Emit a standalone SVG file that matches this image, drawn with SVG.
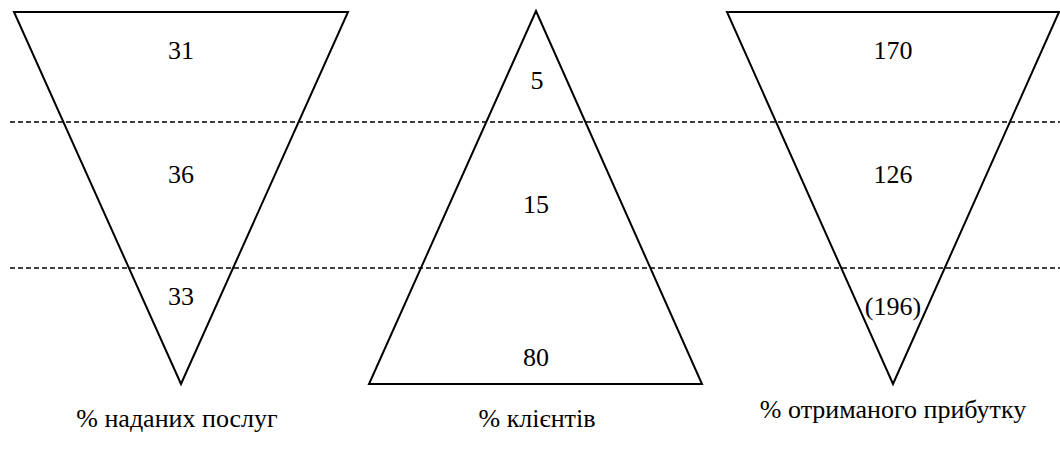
<svg xmlns="http://www.w3.org/2000/svg" width="1060" height="468" viewBox="0 0 1060 468">
<style>
.tri{fill:none;stroke:#000;stroke-width:2;stroke-linejoin:miter}
.dash{stroke:#000;stroke-width:1.3;stroke-dasharray:5,3}
</style>
<rect width="1060" height="468" fill="#fff"/>
<g id="connectors">
<line class="dash" x1="10" y1="122" x2="1060" y2="122"/>
<line class="dash" x1="10" y1="268" x2="1060" y2="268"/>
</g>
<g font-family="Liberation Serif" font-size="26" fill="#000" text-anchor="middle">
<g id="services">
<polygon class="tri" points="14,12 348,12 181,384"/>
<text x="181" y="59">31</text>
<text x="181" y="183">36</text>
<text x="181" y="305">33</text>
<text x="177" y="427">% наданих послуг</text>
</g>
<g id="clients">
<polygon class="tri" points="536,11 702,384 369,384"/>
<text x="537" y="89">5</text>
<text x="536" y="213">15</text>
<text x="536" y="366">80</text>
<text x="537" y="427">% клієнтів</text>
</g>
<g id="profit">
<polygon class="tri" points="727,12 1059,12 893,384"/>
<text x="893" y="59">170</text>
<text x="893" y="183">126</text>
<text x="893" y="315">(196)</text>
<text x="893" y="418">% отриманого прибутку</text>
</g>
</g>
</svg>
